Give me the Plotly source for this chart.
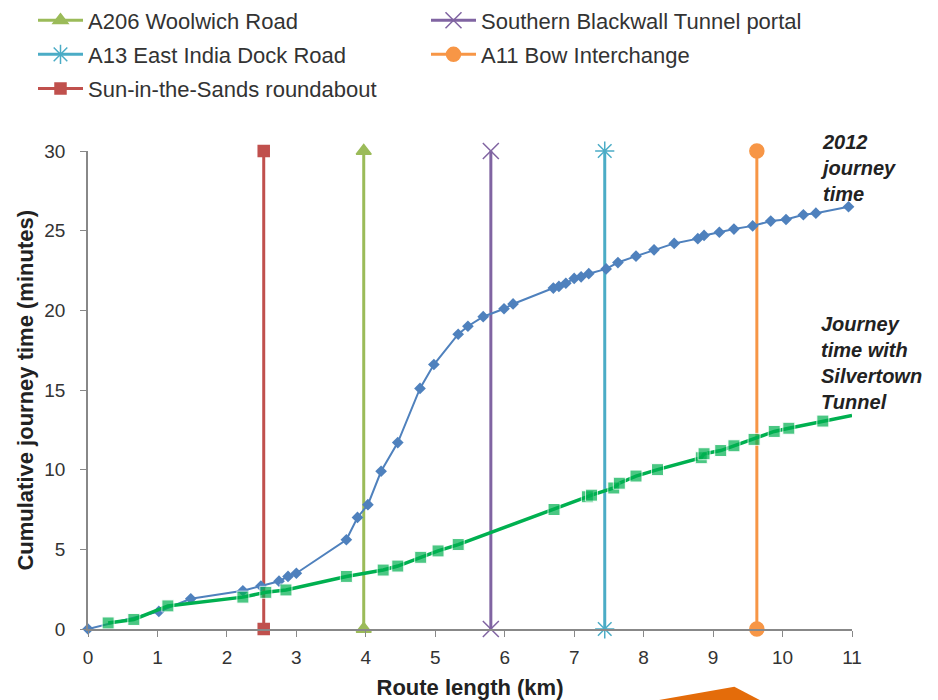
import plotly.graph_objects as go

# 2012 journey time (blue)
blue_x = [0, 1.02, 1.48, 2.23, 2.49, 2.75, 2.88, 3.0, 3.72, 3.88, 4.03, 4.22, 4.46, 4.78, 4.98,
          5.33, 5.47, 5.69, 5.99, 6.12, 6.7, 6.78, 6.88, 7.0, 7.1, 7.21, 7.46, 7.63, 7.89, 8.15,
          8.44, 8.78, 8.87, 9.09, 9.3, 9.57, 9.83, 10.05, 10.3, 10.48, 10.95]
blue_y = [0, 1.1, 1.9, 2.4, 2.7, 3.0, 3.3, 3.5, 5.6, 7.0, 7.8, 9.9, 11.7, 15.1, 16.6,
          18.5, 19.0, 19.6, 20.1, 20.4, 21.4, 21.5, 21.7, 22.0, 22.1, 22.3, 22.6, 23.0, 23.4, 23.8,
          24.2, 24.5, 24.7, 24.9, 25.1, 25.3, 25.6, 25.7, 26.0, 26.1, 26.5]

# Journey time with Silvertown Tunnel (green)
green_x = [0.29, 0.66, 1.15, 2.23, 2.56, 2.85, 3.72, 4.25, 4.46, 4.79, 5.04, 5.33, 6.71, 7.19,
           7.25, 7.57, 7.65, 7.89, 8.2, 8.83, 8.87, 9.11, 9.3, 9.59, 9.88, 10.09, 10.58, 11.0]
green_y = [0.38, 0.6, 1.45, 2.0, 2.3, 2.45, 3.3, 3.7, 3.95, 4.5, 4.9, 5.3, 7.5, 8.3,
           8.4, 8.85, 9.15, 9.6, 10.0, 10.75, 11.0, 11.2, 11.5, 11.9, 12.4, 12.6, 13.05, 13.4]

# Location markers (vertical lines)
loc_names = ["A206 Woolwich Road", "A13 East India Dock Road", "Sun-in-the-Sands roundabout",
             "Southern Blackwall Tunnel portal", "A11 Bow Interchange"]
loc_x = [3.97, 7.44, 2.53, 5.80, 9.63]
loc_colors = ["#9BBB59", "#4BACC6", "#C0504D", "#8064A2", "#F79646"]
loc_symbols = ["triangle-up", "asterisk-open", "square", "x-thin-open", "circle"]
loc_sizes = [13, 16, 11, 16, 14]
loc_legend = ["legend", "legend", "legend", "legend2", "legend2"]
loc_y = [0, 30]

fig = go.Figure()

for i, (name, x, c, s, sz, lg) in enumerate(zip(loc_names, loc_x, loc_colors, loc_symbols,
                                                 loc_sizes, loc_legend)):
    fig.add_trace(go.Scatter(
        x=[x, x], y=loc_y, mode="lines+markers", name=name, legend=lg,
        legendgroup="g%d" % i,
        line=dict(color=c, width=3),
        marker=dict(symbol=s, size=sz, color=c, line=dict(color=c, width=1.5)),
        cliponaxis=False,
    ))

fig.add_trace(go.Scatter(
    x=blue_x, y=blue_y, mode="lines+markers", name="2012 journey time", showlegend=False,
    line=dict(color="#4F81BD", width=2),
    marker=dict(symbol="diamond", size=9, color="#4F81BD"),
    cliponaxis=False,
))
fig.add_trace(go.Scatter(
    x=green_x, y=green_y, mode="lines+markers", name="Journey time with Silvertown Tunnel",
    showlegend=False,
    line=dict(color="#00B050", width=3.5),
    marker=dict(symbol="square", size=[12] * (len(green_x) - 1) + [0], color="#00B050"),
    cliponaxis=False,
))

font_family = "Liberation Sans, Arial, sans-serif"
legend_common = dict(orientation="v", xref="container", yref="paper",
                     xanchor="left", yanchor="top", itemwidth=45, tracegroupgap=2.5,
                     font=dict(size=22, color="#333333"), bgcolor="rgba(0,0,0,0)")

fig.update_layout(
    width=938, height=700,
    margin=dict(l=80, r=94, t=143, b=79, autoexpand=False),
    paper_bgcolor="white", plot_bgcolor="white",
    font=dict(family=font_family, size=19, color="#333333"),
    showlegend=True,
    legend=dict(x=25 / 938, y=1.317, **legend_common),
    legend2=dict(x=418 / 938, y=1.317, **legend_common),
    xaxis=dict(range=[0, 11], tickmode="array", tickvals=list(range(0, 12)),
               showgrid=False, zeroline=False, showline=True, linecolor="#888888", linewidth=1.5,
               ticks="outside", ticklen=6, tickcolor="#888888", ticklabelstandoff=4,
               title=dict(text="<b>Route length (km)</b>", font=dict(size=22, color="#222222"),
                          standoff=13)),
    yaxis=dict(range=[0, 30], tickmode="array", tickvals=[0, 5, 10, 15, 20, 25, 30],
               showgrid=False, zeroline=False, showline=True, linecolor="#888888", linewidth=1.5,
               ticks="outside", ticklen=6, tickcolor="#888888", ticklabelstandoff=11),
)

# y-axis title
fig.add_annotation(x=-0.083, y=0.5, xref="paper", yref="paper", xanchor="center",
                   yanchor="middle", textangle=-90, showarrow=False,
                   text="<b>Cumulative journey time (minutes)</b>",
                   font=dict(size=22, color="#222222"))

fig.add_annotation(x=0.955, y=1.045, xref="paper", yref="paper", xanchor="left",
                   yanchor="top", text="<b><i>2012<br>journey<br>time</i></b>", showarrow=False,
                   align="left", font=dict(size=20, color="#222222"))
fig.add_annotation(x=0.957, y=0.665, xref="paper", yref="paper", xanchor="left",
                   yanchor="top", text="<b><i>Journey<br>time with<br>Silvertown<br>Tunnel</i></b>",
                   showarrow=False, align="left", font=dict(size=20, color="#222222"))

# Decorative orange arrow at bottom (clipped)
fig.add_shape(type="path", xref="paper", yref="paper",
              path="M 0.671 -0.17 L 0.846 -0.121 L 0.905 -0.17 Z",
              fillcolor="#E46C0A", line=dict(width=0), layer="above")

fig.write_html("out.html")
